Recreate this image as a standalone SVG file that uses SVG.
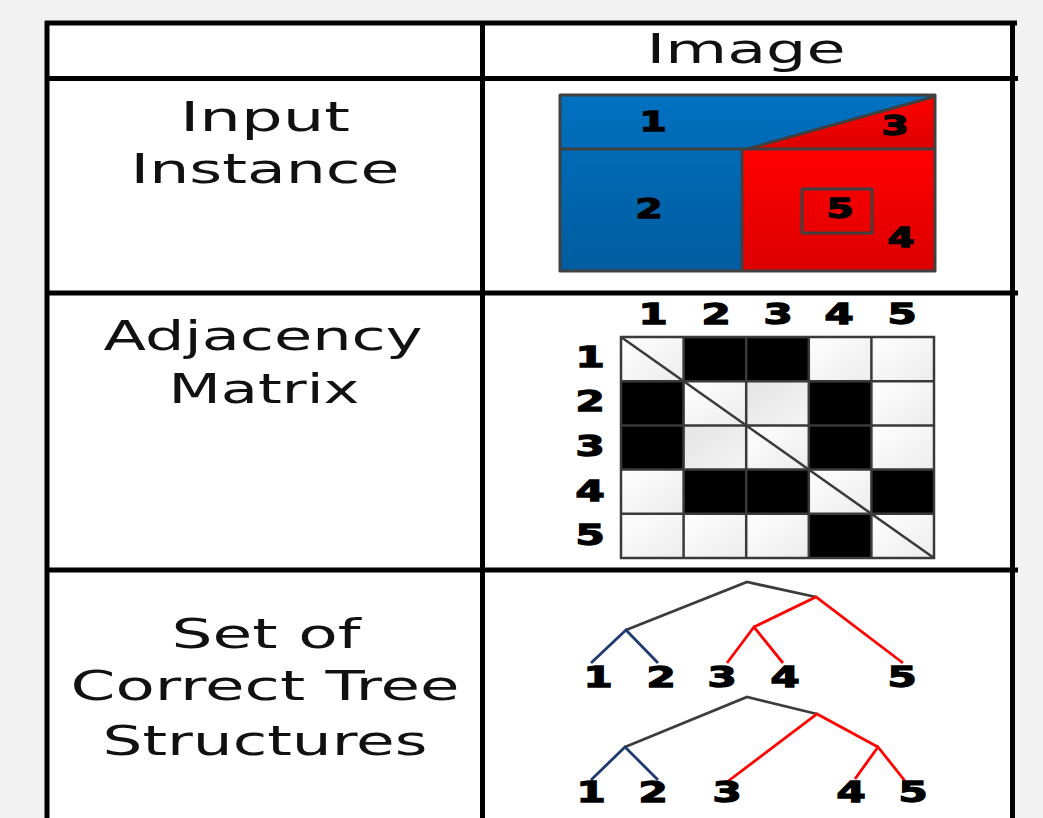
<svg xmlns="http://www.w3.org/2000/svg" width="1043" height="818" viewBox="0 0 1043 818">
  <defs>
    <linearGradient id="gBlue" x1="0" y1="0" x2="0" y2="1">
      <stop offset="0" stop-color="#0071c1"/>
      <stop offset="1" stop-color="#005c9e"/>
    </linearGradient>
    <linearGradient id="gRed" x1="0" y1="0" x2="0" y2="1">
      <stop offset="0" stop-color="#ff0000"/>
      <stop offset="1" stop-color="#dc0000"/>
    </linearGradient>
    <linearGradient id="gWhite" x1="0" y1="0" x2="1" y2="1">
      <stop offset="0" stop-color="#ffffff"/>
      <stop offset="1" stop-color="#ececec"/>
    </linearGradient>
    <linearGradient id="gGray" x1="0" y1="0" x2="1" y2="1">
      <stop offset="0" stop-color="#e4e4e4"/>
      <stop offset="1" stop-color="#f4f4f4"/>
    </linearGradient>
    <style>
      .lbl { font-family: "DejaVu Sans", Verdana, sans-serif; font-size: 41px; fill: #111; text-anchor: middle; }
      .d { font-family: "DejaVu Sans", Verdana, sans-serif; font-weight: bold; font-size: 28px; fill: #000; stroke: #000; stroke-width: 1.3; text-anchor: middle; }
      .di { font-family: "DejaVu Sans", Verdana, sans-serif; font-weight: bold; font-size: 26px; fill: #000; stroke: #000; stroke-width: 1.3; text-anchor: middle; }
      .tbl { stroke: #000; stroke-width: 5; fill: none; }
      .reg { stroke: #404040; stroke-width: 3; stroke-linejoin: round; }
      .cw { fill: url(#gWhite); }
      .cb { fill: #000; }
      .cg { fill: url(#gGray); }
      .grid { stroke: #3a3a3a; stroke-width: 2.5; fill: none; }
      .eg { stroke: #3c3c3c; stroke-width: 2.8; fill: none; }
      .eb { stroke: #1f3a70; stroke-width: 2.8; fill: none; }
      .er { stroke: #ff0000; stroke-width: 2.8; fill: none; }
    </style>
  </defs>

  <rect x="0" y="0" width="1043" height="818" fill="#f2f2f2"/>

  <g id="table">
    <rect x="47" y="23" width="965" height="800" fill="#ffffff"/>
    <line class="tbl" x1="45" y1="23" x2="1017" y2="23"/>
    <line class="tbl" x1="45" y1="78.5" x2="1018" y2="78.5"/>
    <line class="tbl" x1="45" y1="293" x2="1018" y2="293"/>
    <line class="tbl" x1="45" y1="570" x2="1018" y2="570"/>
    <line class="tbl" x1="47" y1="21" x2="47" y2="818"/>
    <line class="tbl" x1="482.5" y1="21" x2="482.5" y2="818"/>
    <line class="tbl" x1="1012.5" y1="21" x2="1012.5" y2="818"/>
  </g>

  <g id="labels">
    <text class="lbl" x="746" y="63" textLength="199" lengthAdjust="spacingAndGlyphs">Image</text>
    <text class="lbl" x="265" y="131" textLength="170" lengthAdjust="spacingAndGlyphs">Input</text>
    <text class="lbl" x="265" y="183" textLength="269" lengthAdjust="spacingAndGlyphs">Instance</text>
    <text class="lbl" x="263" y="350" textLength="319" lengthAdjust="spacingAndGlyphs">Adjacency</text>
    <text class="lbl" x="264" y="403" textLength="191" lengthAdjust="spacingAndGlyphs">Matrix</text>
    <text class="lbl" x="266" y="648" textLength="189" lengthAdjust="spacingAndGlyphs">Set of</text>
    <text class="lbl" x="265" y="700" textLength="389" lengthAdjust="spacingAndGlyphs">Correct Tree</text>
    <text class="lbl" x="265" y="755" textLength="325" lengthAdjust="spacingAndGlyphs">Structures</text>
  </g>

  <g id="input-instance">
    <rect x="560" y="95" width="375" height="176" fill="url(#gBlue)"/>
    <polygon points="742,149 935,149 935,271 742,271" fill="url(#gRed)"/>
    <polygon points="747,149 933,97 935,97 935,149" fill="url(#gRed)"/>
    <rect class="reg" x="560" y="95" width="375" height="176" fill="none"/>
    <line class="reg" x1="560" y1="149" x2="935" y2="149"/>
    <line class="reg" x1="742" y1="149" x2="742" y2="271"/>
    <line class="reg" x1="747" y1="149" x2="933" y2="97"/>
    <rect class="reg" x="802" y="189" width="70" height="44" fill="none"/>
    <text class="di" transform="translate(653,131) scale(1.5,1)">1</text>
    <text class="di" transform="translate(895,135) scale(1.5,1)">3</text>
    <text class="di" transform="translate(649,218) scale(1.5,1)">2</text>
    <text class="di" transform="translate(840,218) scale(1.5,1)">5</text>
    <text class="di" transform="translate(901,247) scale(1.5,1)">4</text>
  </g>

  <g id="adjacency-matrix">
    <rect class="cw" x="621" y="337" width="62.6" height="44.2"/>
    <rect class="cb" x="683.6" y="337" width="62.6" height="44.2"/>
    <rect class="cb" x="746.2" y="337" width="62.6" height="44.2"/>
    <rect class="cw" x="808.8" y="337" width="62.6" height="44.2"/>
    <rect class="cw" x="871.4" y="337" width="62.6" height="44.2"/>
    <rect class="cb" x="621" y="381.2" width="62.6" height="44.2"/>
    <rect class="cw" x="683.6" y="381.2" width="62.6" height="44.2"/>
    <rect class="cg" x="746.2" y="381.2" width="62.6" height="44.2"/>
    <rect class="cb" x="808.8" y="381.2" width="62.6" height="44.2"/>
    <rect class="cw" x="871.4" y="381.2" width="62.6" height="44.2"/>
    <rect class="cb" x="621" y="425.4" width="62.6" height="44.2"/>
    <rect class="cg" x="683.6" y="425.4" width="62.6" height="44.2"/>
    <rect class="cw" x="746.2" y="425.4" width="62.6" height="44.2"/>
    <rect class="cb" x="808.8" y="425.4" width="62.6" height="44.2"/>
    <rect class="cw" x="871.4" y="425.4" width="62.6" height="44.2"/>
    <rect class="cw" x="621" y="469.6" width="62.6" height="44.2"/>
    <rect class="cb" x="683.6" y="469.6" width="62.6" height="44.2"/>
    <rect class="cb" x="746.2" y="469.6" width="62.6" height="44.2"/>
    <rect class="cw" x="808.8" y="469.6" width="62.6" height="44.2"/>
    <rect class="cb" x="871.4" y="469.6" width="62.6" height="44.2"/>
    <rect class="cw" x="621" y="513.8" width="62.6" height="44.2"/>
    <rect class="cw" x="683.6" y="513.8" width="62.6" height="44.2"/>
    <rect class="cw" x="746.2" y="513.8" width="62.6" height="44.2"/>
    <rect class="cb" x="808.8" y="513.8" width="62.6" height="44.2"/>
    <rect class="cw" x="871.4" y="513.8" width="62.6" height="44.2"/>
    <rect class="grid" x="621" y="337" width="313" height="221"/>
    <path class="grid" d="M683.6,337V558M746.2,337V558M808.8,337V558M871.4,337V558M621,381.2H934M621,425.4H934M621,469.6H934M621,513.8H934"/>
    <line class="grid" x1="621" y1="337" x2="934" y2="558"/>
    <text class="d" transform="translate(653,324) scale(1.5,1)">1</text>
    <text class="d" transform="translate(716,324) scale(1.5,1)">2</text>
    <text class="d" transform="translate(778,324) scale(1.5,1)">3</text>
    <text class="d" transform="translate(839,324) scale(1.5,1)">4</text>
    <text class="d" transform="translate(902,324) scale(1.5,1)">5</text>
    <text class="d" transform="translate(590,367) scale(1.5,1)">1</text>
    <text class="d" transform="translate(590,411) scale(1.5,1)">2</text>
    <text class="d" transform="translate(590,456) scale(1.5,1)">3</text>
    <text class="d" transform="translate(590,501) scale(1.5,1)">4</text>
    <text class="d" transform="translate(590,545) scale(1.5,1)">5</text>
  </g>

  <g id="connectors">
    <polyline class="eg" points="626,630 747,582 816,597"/>
    <polyline class="eb" points="591,663 626,630 658,663"/>
    <polyline class="er" points="903,663 816,597 754,627"/>
    <polyline class="er" points="727,663 754,627 783,663"/>
    <polyline class="eg" points="625,747 747,697 817,714"/>
    <polyline class="eb" points="591,780 625,747 658,780"/>
    <polyline class="er" points="727,782 817,714 878,747"/>
    <polyline class="er" points="855,779 878,747 905,781"/>
  </g>

  <g id="tree1-leaves">
    <text class="d" transform="translate(598,687) scale(1.5,1)">1</text>
    <text class="d" transform="translate(661,687) scale(1.5,1)">2</text>
    <text class="d" transform="translate(722,687) scale(1.5,1)">3</text>
    <text class="d" transform="translate(785,687) scale(1.5,1)">4</text>
    <text class="d" transform="translate(902,687) scale(1.5,1)">5</text>
  </g>
  <g id="tree2-leaves">
    <text class="d" transform="translate(591,802) scale(1.5,1)">1</text>
    <text class="d" transform="translate(653,802) scale(1.5,1)">2</text>
    <text class="d" transform="translate(727,802) scale(1.5,1)">3</text>
    <text class="d" transform="translate(851,802) scale(1.5,1)">4</text>
    <text class="d" transform="translate(913,802) scale(1.5,1)">5</text>
  </g>
</svg>
